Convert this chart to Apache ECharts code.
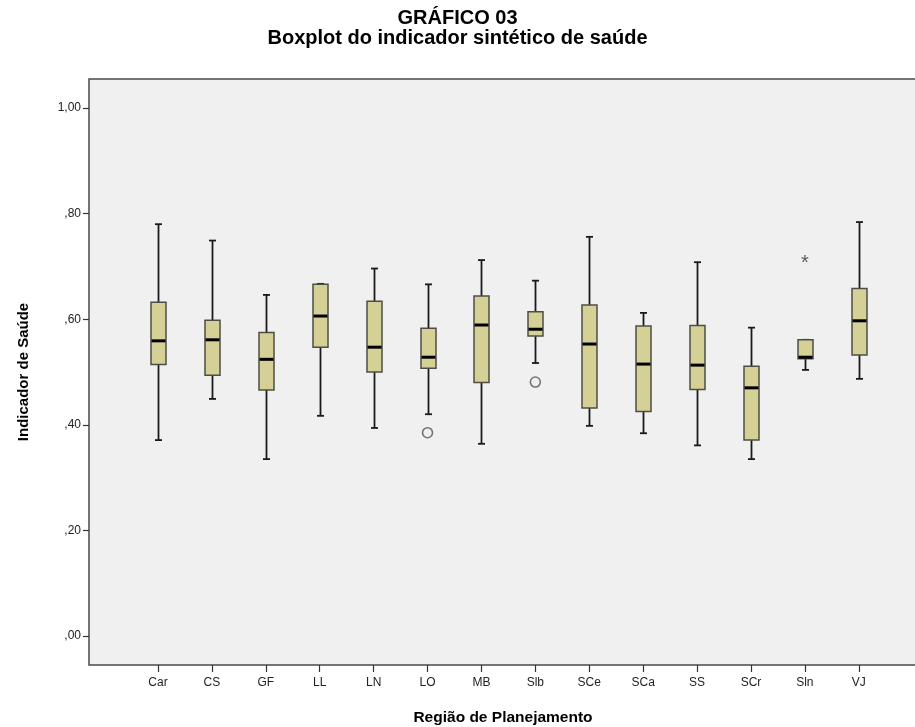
<!DOCTYPE html>
<html>
<head>
<meta charset="utf-8">
<script src="https://cdn.jsdelivr.net/npm/echarts@6/dist/echarts.min.js"></script>
<style>html,body{margin:0;padding:0;background:#fff;}#c{width:915px;height:727px;}</style>
</head>
<body>
<div id="c"></div>
<script>
var categories = ['Car','CS','GF','LL','LN','LO','MB','Slb','SCe','SCa','SS','SCr','Sln','VJ'];
var whiskerLow  = [0.371,0.449,0.335,0.417,0.394,0.420,0.364,0.517,0.398,0.384,0.361,0.335,0.504,0.487];
var quartile1   = [0.514,0.494,0.466,0.547,0.500,0.507,0.480,0.568,0.432,0.425,0.467,0.371,0.525,0.532];
var medians     = [0.559,0.561,0.524,0.606,0.547,0.528,0.589,0.581,0.553,0.515,0.513,0.470,0.528,0.597];
var quartile3   = [0.632,0.598,0.575,0.666,0.634,0.583,0.644,0.614,0.627,0.587,0.588,0.511,0.561,0.658];
var whiskerHigh = [0.780,0.749,0.646,0.667,0.696,0.666,0.712,0.673,0.756,0.612,0.708,0.584,0.561,0.784];
var circleOutliers = [[5,0.385],[7,0.481]];
var extremeOutliers = [[12,0.715]];
var yTicks = [0,0.2,0.4,0.6,0.8,1.0];
var xTicks = [0,1,2,3,4,5,6,7,8,9,10,11,12,13];

var boxData = categories.map(function(c,i){
  return [i, whiskerLow[i], quartile1[i], medians[i], quartile3[i], whiskerHigh[i]];
});

function fmtY(v){
  var s = Number(v).toFixed(2).replace('.', ',');
  if (s.charAt(0) === '0') s = s.substring(1);
  return s;
}

var FONT = 'Liberation Sans, Arial, sans-serif';
var chart = echarts.init(document.getElementById('c'), null, {renderer:'canvas'});
chart.setOption({
  animation:false,
  backgroundColor:'#ffffff',
  title:{
    text:'GRÁFICO 03\nBoxplot do indicador sintético de saúde',
    left:'center', top:3,
    textStyle:{fontFamily:FONT, fontWeight:'bold', fontSize:20, lineHeight:20, color:'#000'}
  },
  grid:{left:89, right:-2, top:79, bottom:62, outerBoundsMode:'none', containLabel:false,
    show:true, backgroundColor:'#f0f0f0', borderColor:'#4a4a4a', borderWidth:1.5},
  xAxis:{
    type:'value', min:-1.28, max:14.08,
    name:'Região de Planejamento', nameLocation:'middle', nameGap:45,
    nameTextStyle:{fontFamily:FONT, fontWeight:'bold', fontSize:15.5, color:'#000'},
    axisLine:{show:false, onZero:false},
    splitLine:{show:false},
    axisTick:{show:true, customValues:xTicks, length:7, lineStyle:{color:'#333', width:1.2}},
    axisLabel:{customValues:xTicks, margin:12, fontFamily:FONT, fontSize:12, color:'#222',
      formatter:function(v){ return categories[Math.round(v)] || ''; }}
  },
  yAxis:{
    type:'value', min:-0.055, max:1.055,
    name:'Indicador de Saúde', nameLocation:'middle', nameGap:58,
    nameTextStyle:{fontFamily:FONT, fontWeight:'bold', fontSize:15, color:'#000'},
    axisLine:{show:false, onZero:false},
    splitLine:{show:false},
    axisTick:{show:true, customValues:yTicks, length:6, lineStyle:{color:'#333', width:1.2}},
    axisLabel:{customValues:yTicks, margin:8, fontFamily:FONT, fontSize:12, color:'#222',
      formatter:fmtY}
  },
  series:[
    {
      type:'custom',
      data:boxData,
      renderItem:function(params, api){
        var x = api.value(0);
        var lo = api.coord([x, api.value(1)]);
        var q1 = api.coord([x, api.value(2)]);
        var md = api.coord([x, api.value(3)]);
        var q3 = api.coord([x, api.value(4)]);
        var hi = api.coord([x, api.value(5)]);
        var cx = Math.round(lo[0]) + 0.5;
        var bw = 15, cw = 7;
        var wStyle = {stroke:'#1a1a1a', lineWidth:1.8};
        return {type:'group', children:[
          {type:'line', shape:{x1:cx,y1:hi[1],x2:cx,y2:q3[1]}, style:wStyle},
          {type:'line', shape:{x1:cx,y1:q1[1],x2:cx,y2:lo[1]}, style:wStyle},
          {type:'line', shape:{x1:cx-cw/2,y1:hi[1],x2:cx+cw/2,y2:hi[1]}, style:wStyle},
          {type:'line', shape:{x1:cx-cw/2,y1:lo[1],x2:cx+cw/2,y2:lo[1]}, style:wStyle},
          {type:'rect', shape:{x:cx-bw/2, y:q3[1], width:bw, height:q1[1]-q3[1]},
            style:{fill:'#d4d096', stroke:'#4d4d45', lineWidth:1.5}},
          {type:'line', shape:{x1:cx-bw/2+0.5,y1:md[1],x2:cx+bw/2-0.5,y2:md[1]}, style:{stroke:'#000', lineWidth:3}}
        ]};
      },
      z:2
    },
    {
      type:'scatter',
      data:circleOutliers,
      symbol:'circle', symbolSize:10,
      itemStyle:{color:'rgba(240,240,240,0)', borderColor:'#555', borderWidth:1.6},
      z:3
    },
    {
      type:'scatter',
      data:extremeOutliers,
      symbol:'circle', symbolSize:1,
      itemStyle:{color:'rgba(0,0,0,0)'},
      label:{show:true, position:'inside', formatter:'*', offset:[0,5],
        fontFamily:FONT, fontSize:20, color:'#333'},
      z:3
    }
  ]
});
</script>
</body>
</html>
